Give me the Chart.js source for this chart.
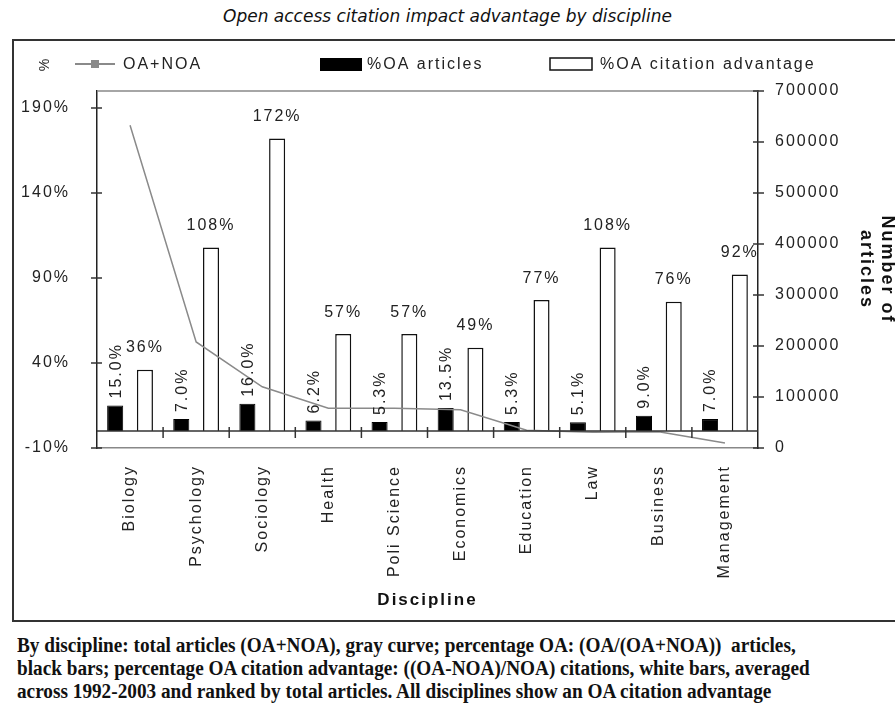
<!DOCTYPE html>
<html>
<head>
<meta charset="utf-8">
<script src="https://cdn.jsdelivr.net/npm/chart.js@4.4.1/dist/chart.umd.min.js"></script>
<style>
html, body { margin: 0; padding: 0; background: #fff; overflow: hidden; width: 895px; height: 710px; }
#title { position: absolute; left: 0; top: 6px; width: 895px; text-align: center; font: italic 17px "DejaVu Sans", sans-serif; color: #111; }
#box { position: absolute; left: 12px; top: 39px; width: 900px; height: 579px; border: 2px solid #333; }
#caption { position: absolute; left: 17px; top: 634px; font: bold 20px "Liberation Serif", serif; line-height: 23px; color: #111; white-space: nowrap; transform-origin: 0 0; transform: scaleX(0.962); }
</style>
</head>
<body>
<div id="title">Open access citation impact advantage by discipline</div>
<div id="box"><canvas id="chart"></canvas></div>
<div id="caption">By discipline: total articles (OA+NOA), gray curve; percentage OA: (OA/(OA+NOA))&nbsp; articles,<br>black bars; percentage OA citation advantage: ((OA-NOA)/NOA) citations, white bars, averaged<br>across 1992-2003 and ranked by total articles. All disciplines show an OA citation advantage</div>
<script>
// values
var categories = ['Biology', 'Psychology', 'Sociology', 'Health', 'Poli Science', 'Economics', 'Education', 'Law', 'Business', 'Management'];
var oaArticles = [15.0, 7.0, 16.0, 6.2, 5.3, 13.5, 5.3, 5.1, 9.0, 7.0];
var oaAdvantage = [36, 108, 172, 57, 57, 49, 77, 108, 76, 92];
var totalArticles = [633000, 208000, 120000, 78000, 78000, 75000, 35000, 31000, 32000, 10000];
var pctTicks = [-10, 40, 90, 140, 190];
var countTicks = [0, 100000, 200000, 300000, 400000, 500000, 600000, 700000];

var FONT = '"Liberation Sans", Arial, sans-serif';
Chart.defaults.font.family = FONT;
Chart.defaults.font.size = 16;
Chart.defaults.color = '#222';

// the old chart has wide letter spacing
var spacing = {
    id: 'spacing',
    beforeUpdate: function(chart) { chart.ctx.letterSpacing = '2px'; },
    beforeDraw: function(chart) { chart.ctx.letterSpacing = '2px'; }
};

function seg(ctx, x1, y1, x2, y2) {
    ctx.beginPath(); ctx.moveTo(x1, y1); ctx.lineTo(x2, y2); ctx.stroke();
}

// value labels above the bars
var barLabels = {
    id: 'barLabels',
    afterDatasetsDraw: function(chart) {
        var ctx = chart.ctx;
        ctx.save();
        ctx.fillStyle = '#222';
        ctx.font = '16px ' + FONT;
        chart.getDatasetMeta(2).data.forEach(function(bar, i) {
            ctx.textAlign = 'center';
            ctx.textBaseline = 'middle';
            ctx.fillText(oaAdvantage[i] + '%', bar.x, bar.y - 22);
        });
        chart.getDatasetMeta(1).data.forEach(function(bar, i) {
            ctx.save();
            ctx.translate(bar.x, bar.y - 7);
            ctx.rotate(-Math.PI / 2);
            ctx.textAlign = 'left';
            ctx.textBaseline = 'middle';
            ctx.fillText(oaArticles[i].toFixed(1) + '%', 0, 1);
            ctx.restore();
        });
        ctx.restore();
    }
};

// axis frame, 0% line, crossing ticks, legend
var frame = {
    id: 'frame',
    afterDraw: function(chart) {
        var ctx = chart.ctx, a = chart.chartArea;
        var x = chart.scales.x, y = chart.scales.y, y1 = chart.scales.y1;
        ctx.save();
        ctx.lineWidth = 1.5;
        ctx.strokeStyle = '#888';
        seg(ctx, a.left, a.top, a.right, a.top);
        ctx.strokeStyle = '#333';
        var y0 = y.getPixelForValue(0);
        seg(ctx, a.left, y0, a.right, y0);
        for (var i = 1; i < categories.length; i++) {
            var bx = (x.getPixelForTick(i - 1) + x.getPixelForTick(i)) / 2;
            seg(ctx, bx, y0 - 4, bx, y0 + 7);
        }
        y.ticks.forEach(function(t, i) {
            var p = y.getPixelForTick(i);
            seg(ctx, a.left - 6, p, a.left + 5, p);
        });
        y1.ticks.forEach(function(t, i) {
            var p = y1.getPixelForTick(i);
            seg(ctx, a.right - 5, p, a.right + 6, p);
        });

        // legend
        var ly = a.top - 27;
        var ds = chart.data.datasets;
        ctx.font = '16px ' + FONT;
        ctx.fillStyle = '#222';
        ctx.textAlign = 'left';
        ctx.textBaseline = 'middle';
        // line sample
        ctx.strokeStyle = ds[0].borderColor;
        ctx.lineWidth = 2;
        seg(ctx, 61, ly, 101, ly);
        ctx.fillStyle = ds[0].borderColor;
        ctx.fillRect(77, ly - 4, 8, 8);
        ctx.fillStyle = '#222';
        ctx.fillText(ds[0].label, 109, ly + 1);
        // black box
        ctx.fillStyle = ds[1].backgroundColor;
        ctx.fillRect(306, ly - 6, 42, 13);
        ctx.fillStyle = '#222';
        ctx.fillText(ds[1].label, 353, ly + 1);
        // white box
        ctx.strokeStyle = ds[2].borderColor;
        ctx.lineWidth = 1.5;
        ctx.strokeRect(536, ly - 6, 42, 12);
        ctx.fillText(ds[2].label, 586, ly + 1);

        // left axis title "%"
        ctx.save();
        ctx.translate(a.left - 52, ly);
        ctx.rotate(-Math.PI / 2);
        ctx.textAlign = 'center';
        ctx.font = '14px ' + FONT;
        ctx.fillText('%', 0, 0);
        ctx.restore();
        ctx.restore();
    }
};

var chart = new Chart(document.getElementById('chart'), {
    type: 'bar',
    data: {
        labels: categories,
        datasets: [{
            type: 'line',
            label: 'OA+NOA',
            data: totalArticles,
            yAxisID: 'y1',
            borderColor: '#8a8a8a',
            borderWidth: 1.5,
            pointRadius: 0,
            tension: 0,
            order: 0
        }, {
            label: '%OA articles',
            data: oaArticles,
            yAxisID: 'y',
            backgroundColor: '#000',
            borderColor: '#000',
            borderWidth: 1,
            categoryPercentage: 0.9,
            barPercentage: 0.54,
            order: 1
        }, {
            label: '%OA citation advantage',
            data: oaAdvantage,
            yAxisID: 'y',
            backgroundColor: '#fff',
            borderColor: '#111',
            borderWidth: 1.5,
            categoryPercentage: 0.9,
            barPercentage: 0.54,
            order: 1
        }]
    },
    options: {
        responsive: true,
        maintainAspectRatio: false,
        animation: false,
        layout: { padding: { top: 50, right: 16, left: 0, bottom: 0 } },
        plugins: { legend: { display: false }, tooltip: { enabled: false } },
        scales: {
            x: {
                grid: { display: false, drawTicks: false },
                border: { display: true, color: '#888', width: 1.5 },
                ticks: { minRotation: 90, maxRotation: 90, padding: 17, autoSkip: false, color: '#222' },
                title: { display: true, text: 'Discipline', color: '#111', font: { size: 17, weight: 'bold' }, padding: { top: 0, bottom: 9 } },
                afterFit: function(s) { s.height = 172; }
            },
            y: {
                position: 'left',
                min: -10,
                max: 200,
                afterBuildTicks: function(s) { s.ticks = pctTicks.map(function(v) { return { value: v }; }); },
                grid: { display: false, drawTicks: false },
                border: { display: true, color: '#222', width: 1.5 },
                ticks: { padding: 27, callback: function(v) { return v + '%'; } },
                afterFit: function(s) { s.width = 83; }
            },
            y1: {
                position: 'right',
                min: 0,
                max: 700000,
                afterBuildTicks: function(s) { s.ticks = countTicks.map(function(v) { return { value: v }; }); },
                grid: { display: false, drawTicks: false },
                border: { display: true, color: '#222', width: 1.5 },
                ticks: { padding: 17, callback: function(v) { return String(v); } },
                title: { display: true, text: ['Number of', 'articles'], color: '#111', font: { size: 18, weight: 'bold' }, padding: { top: 0, bottom: 0 } },
                afterFit: function(s) { s.width = 140; }
            }
        }
    },
    plugins: [spacing, barLabels, frame]
});
</script>
</body>
</html>
